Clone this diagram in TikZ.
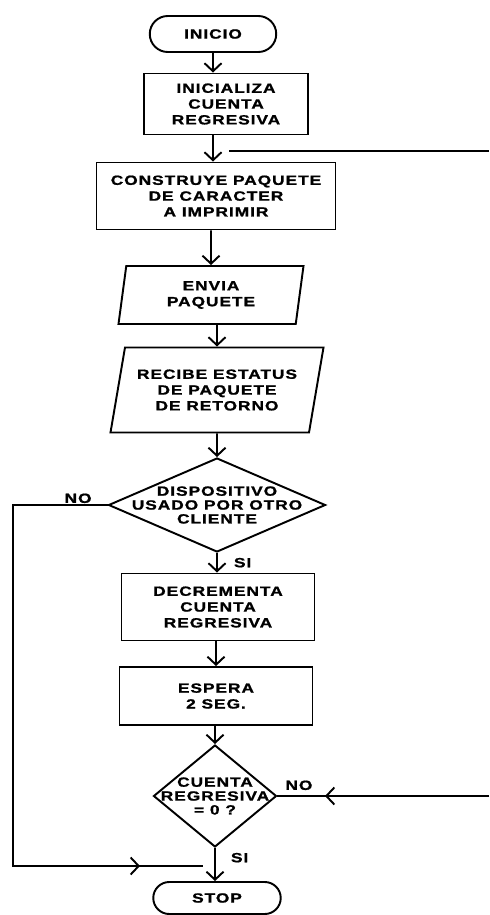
\documentclass[tikz,border=0pt]{standalone}
\usepackage{fontspec}
\newfontfamily\chartfont[FakeStretch=1.3,LetterSpace=7,BoldFeatures={FakeBold=1.2}]{Liberation Sans}
\usetikzlibrary{arrows.meta,positioning,shapes.geometric,shapes.misc}

\begin{document}
\begin{tikzpicture}[
    font=\chartfont\bfseries\fontsize{7.6}{9}\selectfont,
    line width=1.1pt,
    base/.style={draw, align=center, inner sep=1pt},
    term/.style={base, rounded rectangle, minimum width=2.6cm, minimum height=0.72cm},
    proc/.style={base, rectangle, minimum width=3.86cm},
    io/.style={base, trapezium, trapezium stretches body=true},
    decision/.style={base, diamond},
    txt/.style={align=center, inner sep=0pt, font=\chartfont\bfseries\fontsize{7.6}{7.9}\selectfont},
    lbl/.style={inner sep=0pt},
    arrow/.style={-{Straight Barb[length=1.6mm, width=3.4mm]}}
]
    \useasboundingbox (0,0) rectangle (9.78,-18.3);

    \node[term] (inicio) at (4.26,-0.68) {INICIO};
    \node[proc, minimum width=3.28cm, minimum height=1.22cm] (init) at (4.52,-2.08) {INICIALIZA\\CUENTA\\REGRESIVA};
    \node[proc, minimum width=4.78cm, minimum height=1.34cm] (build) at (4.32,-3.92) {CONSTRUYE PAQUETE\\DE CARACTER\\A IMPRIMIR};
    \node[io, trapezium left angle=76, trapezium right angle=104, minimum width=3.7cm, minimum height=1.16cm] (send) at (4.22,-5.9) {ENVIA\\PAQUETE};
    \node[io, trapezium left angle=72, trapezium right angle=108, minimum width=4.26cm, minimum height=1.7cm] (recv) at (4.34,-7.8) {RECIBE ESTATUS\\DE PAQUETE\\DE RETORNO};
    \node[decision, minimum width=4.34cm, minimum height=1.88cm, label={[txt]center:DISPOSITIVO\\USADO POR OTRO\\CLIENTE}] (busy) at (4.34,-10.1) {};
    \node[proc, minimum height=1.34cm] (decr) at (4.36,-12.14) {DECREMENTA\\CUENTA\\REGRESIVA};
    \node[proc, minimum height=1.16cm] (wait) at (4.32,-13.92) {ESPERA\\2 SEG.};
    \node[decision, minimum width=2.46cm, minimum height=2.04cm, label={[txt]center:CUENTA\\REGRESIVA\\= 0 ?}] (zero) at (4.3,-15.92) {};
    \node[term, minimum width=2.62cm, minimum height=0.64cm] (stop) at (4.34,-17.96) {STOP};

    \draw[arrow] (inicio.south) -- (inicio.south |- init.north);
    \draw[arrow] (init.south -| inicio.south) -- (inicio.south |- build.north);
    \draw[arrow] (build.south -| send) -- (send.north);
    \draw[arrow] (send.south -| recv) -- (recv.north);
    \draw[arrow] (recv.south) -- (busy.north);
    \draw[arrow] (busy.south) -- (decr.north -| busy.south);
    \draw[arrow] (decr.south -| wait) -- (wait.north);
    \draw[arrow] (wait.south -| zero) -- (zero.north);
    \draw[arrow] (zero.south) -- (stop.north -| zero.south);

    \coordinate (backtop) at (4.58,-3.02);
    \coordinate (backright) at (9.78,-3.02);
    \draw (backtop) -- (backright);
    \coordinate (backlow) at (9.78,-15.92);
    \draw (backlow) -- (zero.east);
    \draw[arrow] (backlow) -- ++(-3.28,0);

    \coordinate (loopcorner) at (0.26,-17.32);
    \coordinate (loopend) at (4.06,-17.32);
    \draw (busy.west) -| (loopcorner) -- (loopend);
    \draw[arrow] (loopcorner) -- ++(2.54,0);

    \node[lbl, above left=0.02cm and 0.3cm of busy.west] (nobusy) {NO};
    \node[lbl, below right=0.08cm and 0.32cm of busy.south] (sibusy) {SI};
    \node[lbl, above right=0.1cm and 0.14cm of zero.east] (nozero) {NO};
    \node[lbl, below right=0.08cm and 0.3cm of zero.south] (sizero) {SI};
\end{tikzpicture}
\end{document}
